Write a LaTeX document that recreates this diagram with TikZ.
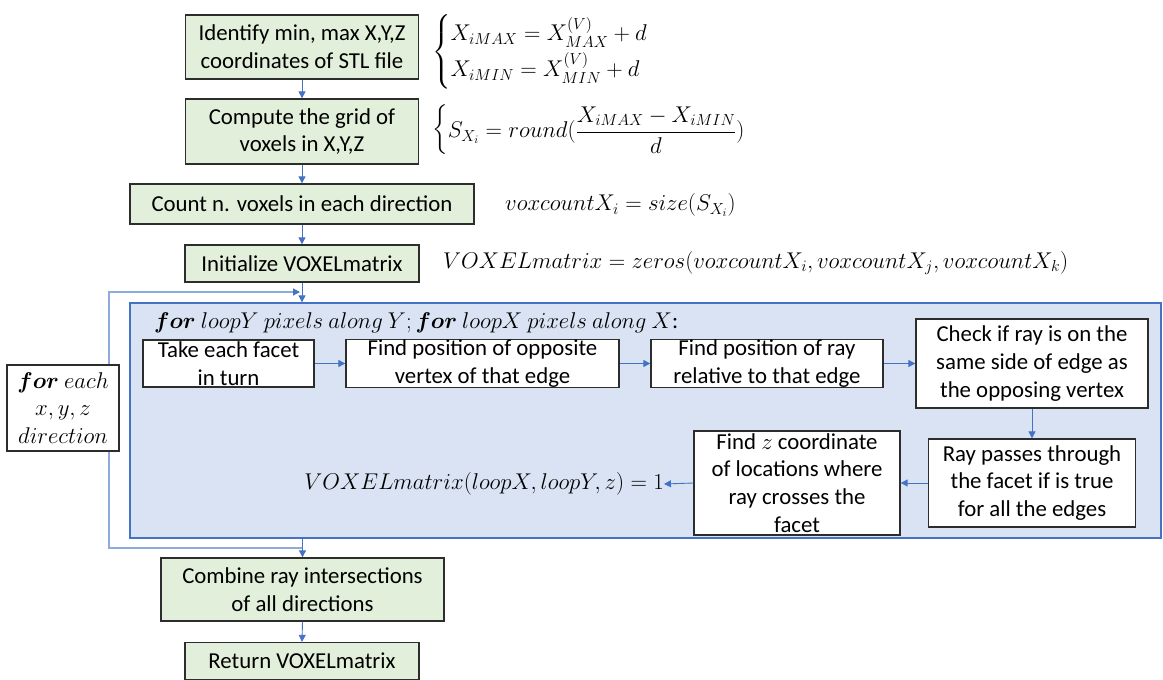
\RequirePackage{fix-cm}
\documentclass[tikz,border=0pt]{standalone}
\usepackage{amsmath}
\usepackage{fontspec}
\setmainfont{Carlito}
\usetikzlibrary{arrows.meta}
\definecolor{gfill}{RGB}{226,239,218}
\definecolor{bfill}{RGB}{218,227,243}
\definecolor{bline}{RGB}{68,114,196}
\definecolor{lline}{RGB}{143,170,220}
\definecolor{dline}{RGB}{45,45,45}
\tikzset{
  boxfont/.style={font=\fontsize{22.8}{27.8}\selectfont},
  gbox/.style={draw=dline, line width=1.3pt, fill=gfill, inner sep=0pt, align=center, boxfont},
  wbox/.style={draw=dline, line width=1.3pt, fill=white, inner sep=0pt, align=center, boxfont},
  arr/.style={draw=bline, line width=0.9pt, -{Triangle[length=7pt,width=7pt]}},
  loopline/.style={draw=lline, line width=1.2pt},
  mtxt/.style={inner sep=0pt, font=\fontsize{22.8}{27.8}\selectfont},
}
\begin{document}
\begin{tikzpicture}[x=1pt,y=-1pt]
\useasboundingbox (0,0) rectangle (1163,680);
% main column
\node[gbox, minimum width=233pt, minimum height=64pt] (b1) at (302,47) {Identify min, max X,Y,Z\\coordinates of STL file};
\node[gbox, minimum width=233pt, minimum height=65pt] (b2) at (302,131.5) {Compute the grid of\\voxels in X,Y,Z};
\node[gbox, minimum width=344pt, minimum height=40pt] (b3) at (302,204) {Count n. voxels in each direction};
\node[gbox, minimum width=234pt, minimum height=37pt] (b4) at (302,263.5) {Initialize VOXELmatrix};
\node[draw=bline, line width=1.3pt, fill=bfill, minimum width=1031pt, minimum height=235pt, inner sep=0pt] (blue) at (645.5,420.5) {};
\node[gbox, minimum width=283pt, minimum height=63pt] (comb) at (302.5,589.5) {Combine ray intersections\\of all directions};
\node[gbox, minimum width=234pt, minimum height=37pt] (ret) at (302,661) {Return VOXELmatrix};
% formulas
\node[mtxt, anchor=west] (f1) at (432,52) {$\begin{cases} X_{iMAX} = X_{MAX}^{(V)} + d \\[2pt] X_{iMIN} = X_{MIN}^{(V)} + d\end{cases}$};
\node[mtxt, anchor=west] (f2) at (432,130) {$\begin{cases} S_{X_i} = round(\dfrac{X_{iMAX} - X_{iMIN}}{d}) \end{cases}$};
\node[mtxt, anchor=west] (f3) at (505,205) {$voxcountX_i = size(S_{X_i})$};
\node[mtxt, anchor=west] (f4) at (443,263) {$VOXELmatrix = zeros(voxcountX_i, voxcountX_j, voxcountX_k)$};
% inside blue
\node[mtxt, anchor=west] (title) at (154,323) {$\boldsymbol{for}\ loopY\ pixels\ along\ Y; \boldsymbol{for}\ loopX\ pixels\ along\ X$:};
\node[wbox, minimum width=171pt, minimum height=47pt] (take) at (228.5,363.5) {Take each facet\\in turn};
\node[wbox, minimum width=273pt, minimum height=47pt] (opp) at (482.5,363.5) {Find position of opposite\\vertex of that edge};
\node[wbox, minimum width=232pt, minimum height=47pt] (rel) at (767,363.5) {Find position of ray\\relative to that edge};
\node[wbox, minimum width=232pt, minimum height=89pt] (check) at (1032,363.5) {Check if ray is on the\\same side of edge as\\the opposing vertex};
\node[wbox, minimum width=207pt, minimum height=88pt] (ray) at (1032,483) {Ray passes through\\the facet if is true\\for all the edges};
\node[wbox, minimum width=206pt, minimum height=104pt] (findz) at (797,483) {Find $z$ coordinate\\of locations where\\ray crosses the\\facet};
\node[mtxt, anchor=east] (vox) at (664,484) {$VOXELmatrix(loopX, loopY, z) = 1$};
% loop box
\node[wbox, minimum width=112pt, minimum height=86pt] (fe) at (63,408) {$\boldsymbol{for}\ each$\\$x, y, z$\\$direction$};
% connectors
\draw[arr] (b1.south) -- (b2.north);
\draw[arr] (b2.south) -- (b3.north);
\draw[arr] (b3.south) -- (b4.north);
\draw[arr] (b4.south) -- (b4.south |- blue.north);
\draw[arr] (blue.south -| comb.north) -- (comb.north);
\draw[arr] (comb.south) -- (ret.north);
\draw[arr] (take.east) -- (opp.west);
\draw[arr] (opp.east) -- (rel.west);
\draw[arr] (rel.east) -- (check.west);
\draw[arr] (check.south) -- (ray.north);
\draw[arr] (ray.west) -- (findz.east);
\draw[arr] (findz.west) -- (vox.east);
\coordinate (lx) at (109,0);
\coordinate (jt) at (300,292);
\coordinate (jb) at (302,548);
\draw[loopline, -{Triangle[length=7pt,width=7pt,color=bline]}] (fe.north -| lx) |- (jt);
\draw[loopline] (fe.south -| lx) |- (jb);
\end{tikzpicture}
\end{document}
